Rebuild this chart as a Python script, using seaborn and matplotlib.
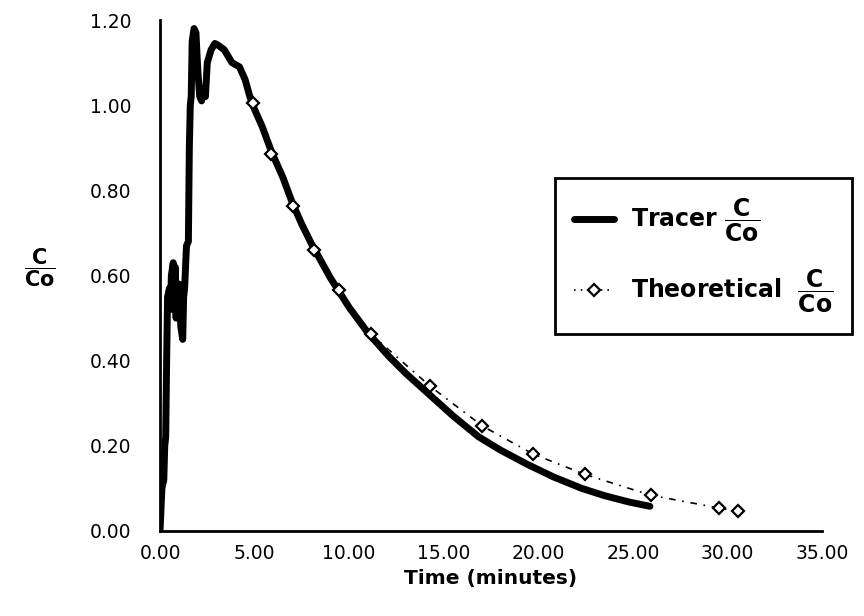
import matplotlib
matplotlib.use("Agg")
import matplotlib.pyplot as plt
from matplotlib.lines import Line2D
import seaborn as sns
import pandas as pd

# ---- data ----
tracer_time = [0.0, 0.05, 0.1, 0.2, 0.25, 0.3, 0.35, 0.4, 0.5, 0.55, 0.6, 0.7, 0.75, 0.8,
               0.85, 0.9, 1.0, 1.1, 1.2, 1.25, 1.3, 1.4, 1.5, 1.55, 1.6, 1.65, 1.7, 1.8,
               1.9, 2.0, 2.1, 2.2, 2.3, 2.4, 2.5, 2.7, 2.9, 3.1, 3.4, 3.8, 4.2, 4.5, 4.75,
               5.0, 5.4, 5.9, 6.5, 7.0, 7.5, 8.0, 8.5, 9.0, 9.5, 10.0, 10.5, 11.0, 11.5,
               12.1, 13.0, 14.3, 15.5, 16.85, 18.0, 19.4, 20.8, 22.3, 23.5, 24.8, 25.9]
tracer_c = [0.0, 0.05, 0.10, 0.12, 0.20, 0.22, 0.40, 0.55, 0.57, 0.52, 0.60, 0.63, 0.55, 0.62,
            0.50, 0.56, 0.58, 0.48, 0.45, 0.55, 0.57, 0.67, 0.68, 0.90, 1.00, 1.02, 1.15, 1.18,
            1.17, 1.08, 1.02, 1.01, 1.04, 1.02, 1.10, 1.13, 1.145, 1.14, 1.13, 1.10, 1.09, 1.06, 1.02,
            0.99, 0.95, 0.89, 0.83, 0.77, 0.72, 0.675, 0.635, 0.595, 0.56, 0.525, 0.495, 0.465, 0.44,
            0.41, 0.37, 0.318, 0.27, 0.221, 0.19, 0.157, 0.127, 0.10, 0.083, 0.068, 0.058]

theory_time = [4.92, 5.87, 7.04, 8.15, 9.47, 11.16, 14.28, 17.03, 19.71, 22.46, 25.94, 29.55, 30.54]
theory_c = [1.005, 0.885, 0.763, 0.66, 0.566, 0.462, 0.34, 0.247, 0.181, 0.133, 0.084, 0.054, 0.046]

x_ticks = [0, 5, 10, 15, 20, 25, 30, 35]
y_ticks = [0.0, 0.2, 0.4, 0.6, 0.8, 1.0, 1.2]

tracer_df = pd.DataFrame({"t": tracer_time, "c": tracer_c})
theory_df = pd.DataFrame({"t": theory_time, "c": theory_c})

sns.set_style("white")
plt.rcParams["font.family"] = ["DejaVu Sans"]
plt.rcParams["mathtext.fontset"] = "dejavusans"
plt.rcParams["text.color"] = "black"
plt.rcParams["axes.labelcolor"] = "black"
plt.rcParams["xtick.color"] = "black"
plt.rcParams["ytick.color"] = "black"

fig = plt.figure(figsize=(8.64, 6.16), dpi=100)
ax = fig.add_axes([0.1852, 0.138, 0.7662, 0.8295])

sns.lineplot(data=tracer_df, x="t", y="c", ax=ax, color="black", linewidth=5,
             sort=False, estimator=None, zorder=2)
sns.lineplot(data=theory_df, x="t", y="c", ax=ax, color="black", linewidth=1.2,
             linestyle=(0, (4, 4, 1, 4)), marker="D", markersize=6.5,
             markerfacecolor="white", markeredgecolor="black", markeredgewidth=1.6,
             sort=False, estimator=None, zorder=3)

ax.set_xlim(0, 35)
ax.set_ylim(0, 1.2)
ax.set_xticks(x_ticks)
ax.set_yticks(y_ticks)
ax.set_xticklabels([f"{v:.2f}" for v in x_ticks])
ax.set_yticklabels([f"{v:.2f}" for v in y_ticks])
ax.tick_params(axis="x", direction="inout", length=13, width=1.6, labelsize=13.5, pad=3,
               colors="black", labelcolor="black")
ax.tick_params(axis="y", direction="inout", length=9, width=1.6, labelsize=13.5, pad=16,
               colors="black", labelcolor="black")
for s in ["top", "right"]:
    ax.spines[s].set_visible(False)
for s in ["left", "bottom"]:
    ax.spines[s].set_linewidth(2)
    ax.spines[s].set_color("black")

ax.set_xlabel("Time (minutes)", fontsize=14.5, fontweight="bold", labelpad=4, color="black")
ax.set_ylabel("")
fig.text(40 / 864, 1 - 268 / 616, r"$\dfrac{\mathbf{C}}{\mathbf{Co}}$", ha="center", va="center",
         fontsize=15, color="black")

handles = [
    Line2D([0], [0], color="black", linewidth=5),
    Line2D([0], [0], color="black", linewidth=1.2, linestyle=(0, (1, 3)), marker="D",
           markersize=6.5, markerfacecolor="white", markeredgecolor="black", markeredgewidth=1.6),
]
labels = [r"Tracer $\dfrac{\mathbf{C}}{\mathbf{Co}}$", r"Theoretical  $\dfrac{\mathbf{C}}{\mathbf{Co}}$"]
leg = ax.legend(handles, labels, loc="upper left", bbox_to_anchor=(555 / 864, 1 - 178 / 616),
                bbox_transform=fig.transFigure, frameon=True, fancybox=False, borderpad=0.8,
                borderaxespad=0, labelspacing=1.0, handlelength=1.7, handletextpad=0.7,
                prop={"weight": "bold", "size": 17})
leg.get_frame().set_edgecolor("black")
leg.get_frame().set_linewidth(2)
leg.get_frame().set_alpha(1)
for t in leg.get_texts():
    t.set_color("black")

fig.savefig("out.png", dpi=100, facecolor="white")
